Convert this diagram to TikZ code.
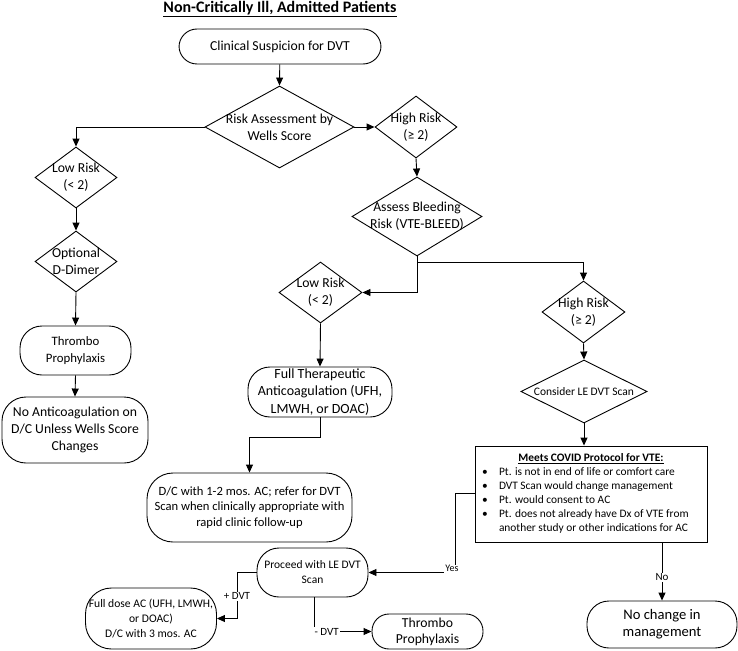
\documentclass[tikz,border=0pt]{standalone}
\usepackage{fontspec}
\setmainfont{Carlito}
\usetikzlibrary{shapes.geometric,arrows.meta}
\newcommand{\fs}[2]{\fontsize{#1}{#2}\selectfont}
\begin{document}
\begin{tikzpicture}[x=1pt,y=-1pt,
  ln/.style={line width=0.9pt},
  arr/.style={ln,-{Triangle[length=8pt,width=7pt]}},
  rbox/.style={draw,ln,rectangle,rounded corners=#1,align=center,inner sep=0pt},
  rbox/.default=18pt,
  dia/.style={draw,ln,diamond,inner sep=0pt},
  dtxt/.style={align=center,font=\fs{13.7}{17}},
  lab/.style={fill=white,inner sep=1pt,font=\fs{11}{12}}
]
\useasboundingbox (0,0) rectangle (738,650);
\node[font=\fs{16}{18}\bfseries] (title) at (280,9) {\underline{Non-Critically Ill, Admitted Patients}};
\node[rbox, minimum width=202pt, minimum height=35pt, font=\fs{13.7}{17}] (clin) at (280,46.5) {Clinical Suspicion for DVT};
\node[dia, minimum width=149pt, minimum height=82pt, label={[dtxt]center:Risk Assessment by\\Wells Score}] (risk) at (279.5,127) {};
\node[dia, minimum width=82pt, minimum height=62pt, label={[dtxt]center:High Risk\\(≥ 2)}] (hr1) at (416,127) {};
\node[dia, minimum width=82pt, minimum height=61pt, label={[dtxt]center:Low Risk\\(< 2)}] (lr1) at (76,177.5) {};
\node[dia, minimum width=82pt, minimum height=61pt, label={[dtxt]center:Optional\\D-Dimer}] (dd) at (76,261.5) {};
\node[rbox=22pt, minimum width=111pt, minimum height=49pt, font=\fs{12.8}{17}] (tp1) at (75.5,350.5) {Thrombo\\Prophylaxis};
\node[rbox=24pt, minimum width=146pt, minimum height=66pt, font=\fs{13.7}{17}] (noac) at (75,430) {No Anticoagulation on\\D/C Unless Wells Score\\Changes};
\node[dia, minimum width=130pt, minimum height=79pt, label={[dtxt]center:Assess Bleeding\\Risk (VTE-BLEED)}] (bleed) at (417,216.5) {};
\node[dia, minimum width=83pt, minimum height=61pt, label={[dtxt]center:Low Risk\\(< 2)}] (lr2) at (320.5,292.5) {};
\node[dia, minimum width=83pt, minimum height=62pt, label={[dtxt]center:High Risk\\(≥ 2)}] (hr2) at (583.5,312) {};
\node[rbox=22pt, minimum width=144pt, minimum height=50pt, font=\fs{14}{17.5}] (full) at (320,392) {Full Therapeutic\\Anticoagulation (UFH,\\LMWH, or DOAC)};
\node[rbox=26pt, minimum width=205pt, minimum height=69pt, font=\fs{12.6}{15.5}] (dc) at (249.5,507.5) {D/C with 1-2 mos. AC; refer for DVT\\Scan when clinically appropriate with\\rapid clinic follow-up};
\node[dia, minimum width=126pt, minimum height=63pt, label={[align=center,font=\fs{11.5}{15}]center:Consider LE DVT Scan}] (cons) at (584,391.5) {};
\node[draw, ln, rectangle, minimum width=232pt, minimum height=96pt, inner sep=0pt, font=\fs{11.4}{14}] (meets) at (591,494) {%
  \begin{tabular}{@{}p{24pt}@{}p{208pt}@{}}
  \multicolumn{2}{@{}c@{}}{\underline{\textbf{Meets COVID Protocol for VTE:}}}\\
  \hspace*{7pt}\textbullet & Pt. is not in end of life or comfort care\\
  \hspace*{7pt}\textbullet & DVT Scan would change management\\
  \hspace*{7pt}\textbullet & Pt. would consent to AC\\
  \hspace*{7pt}\textbullet & Pt. does not already have Dx of VTE from\\
   & another study or other indications for AC
  \end{tabular}};
\node[rbox=22pt, minimum width=150pt, minimum height=47pt, font=\fs{14.6}{16.7}] (nochg) at (662,624.5) {No change in\\management};
\node[rbox=22pt, minimum width=111pt, minimum height=49pt, font=\fs{11.5}{15}] (proc) at (312.5,572.5) {Proceed with LE DVT\\Scan};
\node[rbox=26pt, minimum width=131pt, minimum height=61pt, font=\fs{11.6}{15}] (fulld) at (151,618.5) {Full dose AC (UFH, LMWH,\\or DOAC)\\D/C with 3 mos. AC};
\node[rbox=17pt, minimum width=111pt, minimum height=35pt, font=\fs{13.7}{16}] (tp2) at (427.5,631.5) {Thrombo\\Prophylaxis};
% connectors
\draw[arr] (clin) -- (risk.north);
\draw[arr] (risk.east) -- (hr1.west);
\draw[arr] (risk.west) -| (lr1.north);
\draw[arr] (lr1.south) -- (dd.north);
\draw[arr] (dd.south) -- (tp1.north);
\draw[arr] (tp1.south) -- (noac.north);
\draw[arr] (hr1.south) -- (bleed.north);
\coordinate (b1) at (417,262);
\draw[arr] (bleed.south) -- (b1) -| (hr2.north);
\draw[arr] (b1) |- (lr2.east);
\draw[arr] (lr2.south) -- (full.north);
\coordinate (f1) at (320,437);
\draw[arr] (full.south) -- (f1) -| (dc.north);
\draw[arr] (hr2.south) -- (cons.north);
\draw[arr] (cons.south) -- (cons.south |- meets.north);
\coordinate (m1) at (455,493);
\draw[ln] (meets.west |- m1) -- (m1);
\draw[arr] (m1) |- (proc.east) node[pos=0.5, anchor=south, xshift=-3pt, yshift=-1pt, lab, font=\fs{10}{12}] (yes) {Yes};
\draw[arr] (meets.south -| nochg.north) -- node[lab, pos=0.6] (no) {No} (nochg.north);
\coordinate (p1) at (237,572.5);
\draw[arr] (proc.west) -- (p1) |- (fulld.east) node[pos=0.26, lab] (pdvt) {+ DVT};
\coordinate (p2) at (314,631.5);
\draw[arr] (proc.south -| p2) -- (p2) -- (tp2.west) node[pos=0.22, lab] (mdvt) {- DVT};
\end{tikzpicture}
\end{document}
